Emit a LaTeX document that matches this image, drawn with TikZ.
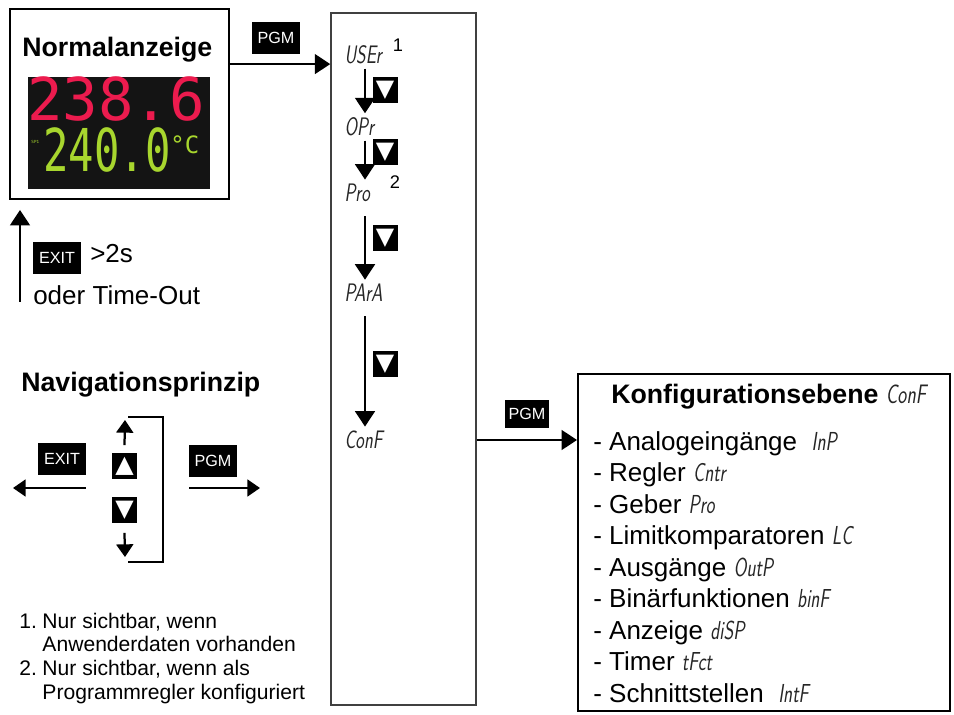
\documentclass[tikz,border=0pt]{standalone}
\usepackage{fontspec}
\setmainfont{Liberation Sans}
\newfontfamily\digitfont{DejaVu Sans Mono}
\newfontfamily\symbolfont{DejaVu Sans}
\usepackage{graphicx}
\usetikzlibrary{arrows.meta,positioning}
\definecolor{LedRed}{HTML}{EC1B4E}
\definecolor{LedGreen}{HTML}{A8D62E}
\newcommand{\seg}[1]{{\sffamily\mdseries\itshape\color{black!85}\scalebox{0.72}[1]{#1}}}

\begin{document}
\begin{tikzpicture}[x=0.025cm,y=-0.025cm,
  frame/.style={draw,line width=1.3pt},
  key/.style={fill=black,text=white,font=\fontsize{11.5}{12}\selectfont,inner sep=0pt,minimum width=1.18cm,minimum height=0.8cm},
  trikey/.style={fill=black,text=white,font=\symbolfont\fontsize{17}{17}\selectfont,inner sep=0pt,minimum size=0.625cm},
  menu/.style={anchor=west,inner sep=3pt,font=\fontsize{18}{20}\selectfont},
  item/.style={anchor=base west,inner sep=0pt,font=\fontsize{18.5}{22}\selectfont},
  title/.style={anchor=base west,inner sep=0pt,font=\bfseries\fontsize{19}{22}\selectfont},
  big/.style={anchor=base west,inner sep=0pt,font=\fontsize{18.5}{22}\selectfont},
  arr/.style={-{Triangle[length=11pt,width=14pt]},line width=1.8pt},
  navarr/.style={-{Triangle[length=9pt,width=12pt]},line width=1.6pt}
]
  \useasboundingbox (0,0) rectangle (954,715);

  % normal display
  \node[frame,minimum width=5.475cm,minimum height=4.75cm] (normal) at (119.5,104) {};
  \node[title] (normtitle) at (22,57) {Normalanzeige};
  \node[fill=black!92,minimum width=4.55cm,minimum height=2.8cm,inner sep=0pt] (disp) at (119,133) {};
  \node[anchor=base west,inner sep=0pt,align=left,font=\digitfont\fontsize{42}{36.3}\selectfont] (readout) at (27,172)
    {\textcolor{LedRed}{238.6}\\
     \hspace*{3pt}\raisebox{20pt}{\textcolor{LedGreen}{\fontsize{3}{3}\selectfont SP1}}\hspace*{3pt}%
     \textcolor{LedGreen}{\scalebox{0.715}[1]{240.0}}%
     \raisebox{13.5pt}{\textcolor{LedGreen}{\fontsize{17}{17}\selectfont °C}}};

  % back to normal display
  \node[key] (exittop) at (57,258) {EXIT};
  \node[big] (hold) at (90,263) {>2s};
  \node[big] (timeout) at (33,305) {oder Time-Out};
  \coordinate (backstart) at (20,302);
  \draw[arr,shorten >=0.25cm] (backstart) -- (backstart |- normal.south);

  % operating levels
  \node[draw=black!75,line width=1pt,minimum width=3.625cm,minimum height=17.3cm] (panel) at (403.5,359) {};
  \node[key] (pgmtop) at (276,38) {PGM};
  \draw[arr] ([yshift=-1.4cm]normal.north east) coordinate (pgmstart) -- (pgmstart -| panel.west);

  \coordinate (chain) at (365,0);
  \node[menu] (user) at (340,55) {\seg{USEr}};
  \node[font=\fontsize{13}{13}\selectfont] (fn1) at (398,45) {1};
  \node[menu] (opr) at (340,127) {\seg{OPr}};
  \node[menu] (pro) at (340,193) {\seg{Pro}};
  \node[font=\fontsize{13}{13}\selectfont] (fn2) at (395,182) {2};
  \node[menu] (para) at (340,293) {\seg{PArA}};
  \node[menu] (confmenu) at (340,440) {\seg{ConF}};
  \draw[arr] (user.south -| chain) -- (opr.north -| chain);
  \draw[arr] (opr.south -| chain) -- (pro.north -| chain);
  \draw[arr] (pro.south -| chain) ++(0,10) -- (para.north -| chain);
  \draw[arr] (para.south -| chain) ++(0,10) -- (confmenu.north -| chain);
  \node[trikey] (down1) at (385,90) {▼};
  \node[trikey] (down2) at (385,152) {▼};
  \node[trikey] (down3) at (385,238) {▼};
  \node[trikey] (down4) at (385,364) {▼};

  % configuration level
  \node[frame,minimum width=9.3cm,minimum height=8.425cm] (confbox) at (764,542.5) {};
  \node[key,minimum width=1.12cm,minimum height=0.72cm] (pgmmid) at (527,414) {PGM};
  \draw[arr] (confmenu -| panel.east) -- (confmenu -| confbox.west);
  \node[title] (conftitle) at (611,403) {Konfigurationsebene \seg{ConF}};
  \foreach \txt [count=\i from 0] in {{Analogeingänge \ \seg{InP}},{Regler \seg{Cntr}},{Geber \seg{Pro}},
      {Limitkomparatoren \seg{LC}},{Ausgänge \seg{OutP}},{Binärfunktionen \seg{binF}},
      {Anzeige \seg{diSP}},{Timer \seg{tFct}},{Schnittstellen \ \seg{IntF}}}
    \node[item] (item\i) at (593,{450+31.5*\i}) {- \txt};

  % navigation principle
  \node[title] (navtitle) at (21,392) {Navigationsprinzip};
  \node[key] (navexit) at (62,459) {EXIT};
  \node[key] (navpgm) at (213,461) {PGM};
  \node[trikey] (upkey) at (124.5,466) {▲};
  \node[trikey] (downkey) at (124.5,510) {▼};
  \coordinate (exitend) at (13,488);
  \coordinate (pgmend) at (260,488);
  \coordinate (uptip) at (125,420);
  \coordinate (downtip) at (125,557);
  \draw[navarr] (exitend -| navexit.east) -- (exitend);
  \draw[navarr] (pgmend -| navpgm.west) -- (pgmend);
  \draw[navarr] (upkey.north) ++(0,-8) -- (uptip);
  \draw[navarr] (downkey.south) ++(0,10) -- (downtip);
  \draw[line width=1.6pt] (128,417) -- (163,417) -- (163,562) -- (128,562);

  % footnotes
  \node[anchor=base west,inner sep=0pt,font=\fontsize{15}{17}\selectfont] (notes) at (19,628)
    {\begin{tabular}[t]{@{}l@{\hspace{4pt}}l@{}}
      1. & Nur sichtbar, wenn\\
         & Anwenderdaten vorhanden\\
      2. & Nur sichtbar, wenn als\\
         & Programmregler konfiguriert
    \end{tabular}};
\end{tikzpicture}
\end{document}
